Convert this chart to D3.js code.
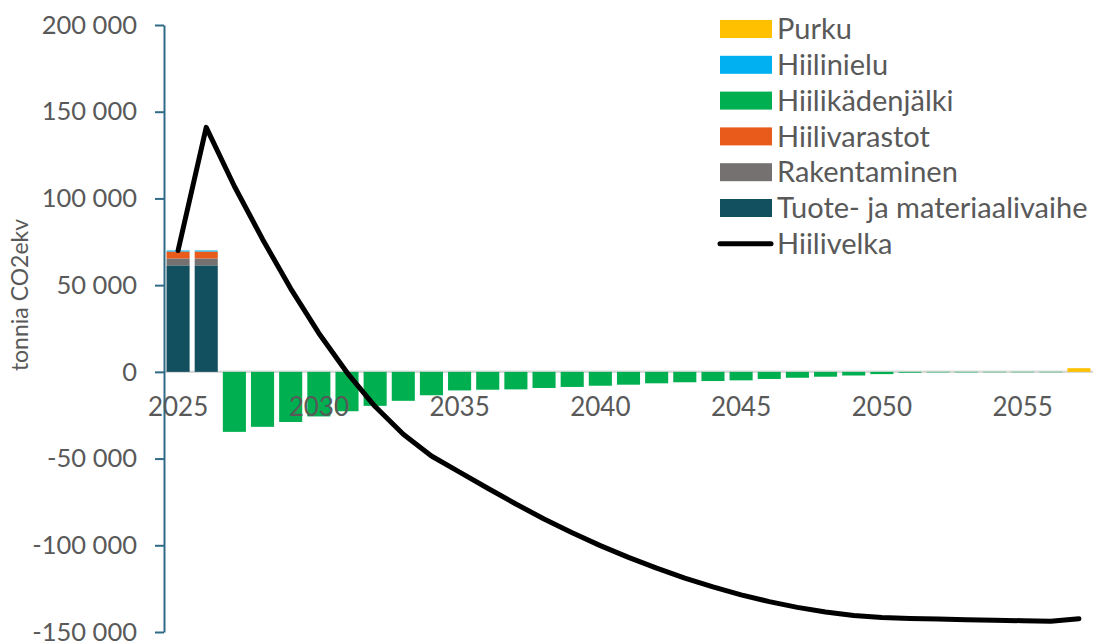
<!DOCTYPE html>
<html lang="fi">
<head>
<meta charset="utf-8">
<script src="https://cdn.jsdelivr.net/npm/d3@7"></script>
<style>
  html, body { margin: 0; padding: 0; background: #ffffff; }
  svg { display: block; font-family: Lato, "Open Sans", sans-serif; }
</style>
</head>
<body>
<svg id="chart" width="1103" height="643"></svg>
<script>
// Vuodet (kategoriat)
const years = [2025, 2026, 2027, 2028, 2029, 2030, 2031, 2032, 2033, 2034, 2035,
  2036, 2037, 2038, 2039, 2040, 2041, 2042, 2043, 2044, 2045, 2046, 2047,
  2048, 2049, 2050, 2051, 2052, 2053, 2054, 2055, 2056, 2057];

// Pinotut pylväät, tonnia CO2ekv
const tuote = [61400, 61400, 0, 0, 0, 0, 0, 0, 0, 0, 0, 0, 0, 0, 0, 0, 0, 0, 0, 0,
  0, 0, 0, 0, 0, 0, 0, 0, 0, 0, 0, 0, 0];
const rakentaminen = [4000, 4000, 0, 0, 0, 0, 0, 0, 0, 0, 0, 0, 0, 0, 0, 0, 0, 0, 0, 0,
  0, 0, 0, 0, 0, 0, 0, 0, 0, 0, 0, 0, 0];
const hiilivarastot = [4000, 4000, 0, 0, 0, 0, 0, 0, 0, 0, 0, 0, 0, 0, 0, 0, 0, 0, 0, 0,
  0, 0, 0, 0, 0, 0, 0, 0, 0, 0, 0, 0, 0];
const hiilikadenjalki = [0, 0, -34600, -31700, -28900, -25700, -22700, -19600, -16700,
  -13500, -10700, -10300, -10100, -9300, -8700, -8000, -7400, -6600, -6000, -5300,
  -4900, -4100, -3400, -2800, -2100, -1300, -500, -300, -300, -250, -250, -250, 0];
const hiilinielu = [600, 600, 0, 0, 0, 0, 0, 0, 0, 0, 0, 0, 0, 0, 0, 0, 0, 0, 0, 0,
  0, 0, 0, 0, 0, 0, 0, 0, 0, 0, 0, 0, 0];
const purku = [0, 0, 0, 0, 0, 0, 0, 0, 0, 0, 0, 0, 0, 0, 0, 0, 0, 0, 0, 0,
  0, 0, 0, 0, 0, 0, 0, 0, 0, 0, 0, 0, 2100];

// Kumulatiivinen hiilivelka (viiva)
const hiilivelka = [70000, 141000, 107000, 76500, 48000, 22300, -400, -20000, -36000,
  -48500, -57800, -67100, -76200, -84800, -92800, -100200, -107000, -113200, -118900,
  -124000, -128600, -132500, -135800, -138500, -140500, -141700, -142200, -142550,
  -142900, -143200, -143500, -143800, -142300];

// Akselien jaot
const yTicks = [-150000, -100000, -50000, 0, 50000, 100000, 150000, 200000];
const xTickYears = [2025, 2030, 2035, 2040, 2045, 2050, 2055];

// Sarjat: piirtojärjestys alhaalta ylös, selite ylhäältä alas
const series = [
  { key: "tuote", name: "Tuote- ja materiaalivaihe", color: "#124F5F", values: tuote },
  { key: "rakentaminen", name: "Rakentaminen", color: "#767171", values: rakentaminen },
  { key: "hiilivarastot", name: "Hiilivarastot", color: "#E95B1B", values: hiilivarastot },
  { key: "hiilikadenjalki", name: "Hiilikädenjälki", color: "#00B050", values: hiilikadenjalki },
  { key: "hiilinielu", name: "Hiilinielu", color: "#00B0F0", values: hiilinielu },
  { key: "purku", name: "Purku", color: "#FFC000", values: purku }
];

const rows = years.map((yr, i) => {
  const r = { year: yr };
  series.forEach(s => { r[s.key] = s.values[i]; });
  return r;
});

const svg = d3.select("#chart");
const textColor = "#595959";

const x = d3.scaleBand()
  .domain(years)
  .range([164, 1093])
  .paddingInner(0.18)
  .paddingOuter(0.09);

const y = d3.scaleLinear()
  .domain([-150000, 200000])
  .range([632, 25]);

const fi = d3.formatLocale({ decimal: ",", thousands: "\u00a0", grouping: [3], currency: ["", " €"], minus: "-" });
const fmt = fi.format(",d");

// Nollaviiva
svg.append("line")
  .attr("x1", x.range()[0]).attr("x2", x.range()[1])
  .attr("y1", y(0)).attr("y2", y(0))
  .attr("stroke", "#D9D9D9").attr("stroke-width", 2.5);

// Pylväät
const stack = d3.stack()
  .keys(series.map(s => s.key))
  .offset(d3.stackOffsetDiverging);
const stacked = stack(rows);

svg.append("g").selectAll("g")
  .data(stacked)
  .join("g")
  .attr("fill", (d, i) => series[i].color)
  .selectAll("rect")
  .data(d => d.filter(p => p[1] !== p[0]))
  .join("rect")
  .attr("x", p => x(p.data.year))
  .attr("width", x.bandwidth())
  .attr("y", p => y(Math.max(p[0], p[1])))
  .attr("height", p => Math.abs(y(p[0]) - y(p[1])));

// Y-akseli
const yAxis = svg.append("g")
  .attr("transform", `translate(${x.range()[0]},0)`)
  .call(d3.axisLeft(y).tickValues(yTicks).tickFormat(fmt).tickSize(9).tickPadding(18).tickSizeOuter(0));
yAxis.select(".domain").attr("stroke", "#2F6A86").attr("stroke-width", 2);
yAxis.selectAll(".tick line").attr("stroke", "#2F6A86").attr("stroke-width", 2);
yAxis.selectAll(".tick text")
  .attr("fill", textColor)
  .style("font-size", "25.5px")
  .style("font-family", "Lato, sans-serif");

// X-akselin vuosiluvut
const xAxis = svg.append("g")
  .attr("transform", `translate(0,${y(0)})`)
  .call(d3.axisBottom(x).tickValues(xTickYears).tickSize(0).tickPadding(26));
xAxis.select(".domain").remove();
xAxis.selectAll(".tick text")
  .attr("fill", textColor)
  .style("font-size", "26px")
  .style("font-family", "Lato, sans-serif");

// Hiilivelka-viiva
const line = d3.line()
  .x((d, i) => x(years[i]) + x.bandwidth() / 2)
  .y(d => y(d));
svg.append("path")
  .datum(hiilivelka)
  .attr("d", line)
  .attr("fill", "none")
  .attr("stroke", "#000000")
  .attr("stroke-width", 5)
  .attr("stroke-linejoin", "round")
  .attr("stroke-linecap", "round");

// Y-akselin otsikko
svg.append("text")
  .attr("transform", "translate(20,295) rotate(-90)")
  .attr("text-anchor", "middle")
  .attr("dy", "0.35em")
  .attr("fill", textColor)
  .style("font-size", "23px")
  .text("tonnia CO2ekv");

// Selite
const legendItems = series.slice().reverse().map(s => ({ name: s.name, color: s.color, type: "rect" }));
legendItems.push({ name: "Hiilivelka", color: "#000000", type: "line" });

const legend = svg.append("g");
const rowH = 35.8;
legendItems.forEach((d, i) => {
  const cy = 29 + i * rowH;
  const g = legend.append("g");
  if (d.type === "rect") {
    g.append("rect")
      .attr("x", 720).attr("y", cy - 9)
      .attr("width", 52).attr("height", 18)
      .attr("fill", d.color);
  } else {
    g.append("line")
      .attr("x1", 720).attr("x2", 771)
      .attr("y1", cy).attr("y2", cy)
      .attr("stroke", d.color).attr("stroke-width", 5)
      .attr("stroke-linecap", "round");
  }
  g.append("text")
    .attr("x", 777).attr("y", cy)
    .attr("dy", "0.35em")
    .attr("fill", textColor)
    .style("font-size", "29px")
    .text(d.name);
});
</script>
</body>
</html>
